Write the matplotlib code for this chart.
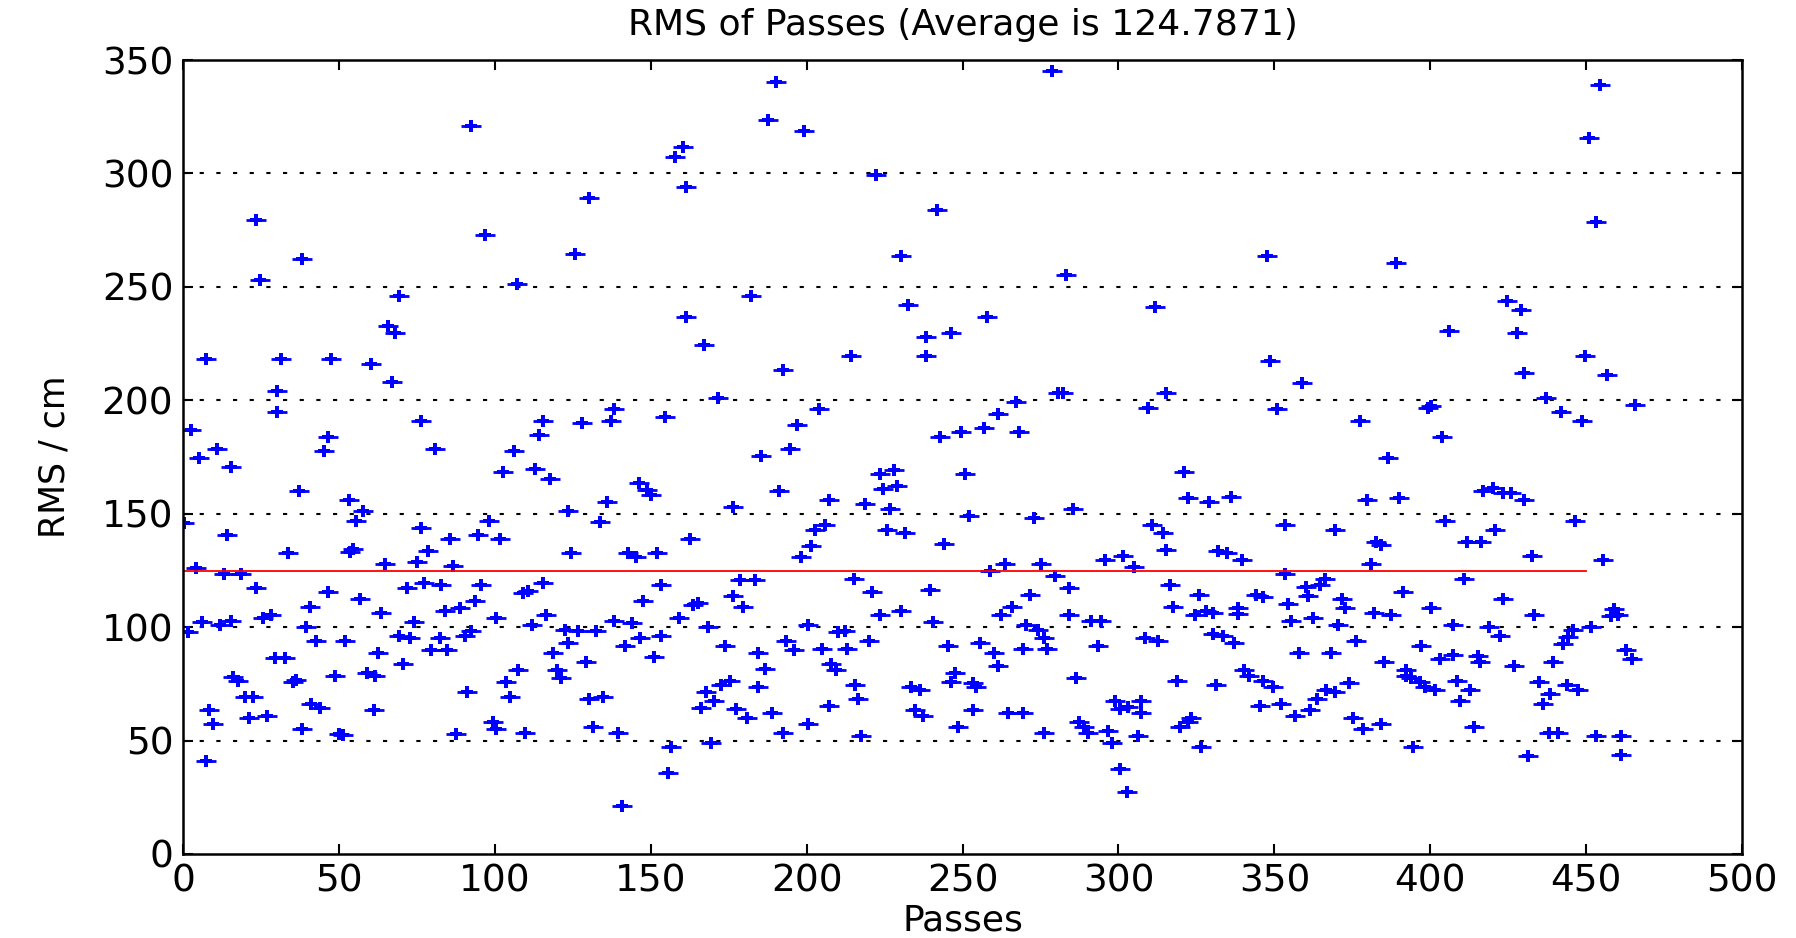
import matplotlib
matplotlib.use("Agg")
import matplotlib.pyplot as plt

passes = [
0.3,1.6,2.7,4.3,5.0,6.1,7.4,7.4,8.2,9.6,10.9,11.8,13.0,14.1,15.3,15.3,16.0,17.6,18.7,19.8,21.1,22.5,23.3,23.3,24.6,25.7,26.8,28.3,29.4,30.2,30.2,31.3,32.6,33.7,35.3,36.3,37.1,38.3,38.3,39.5,
40.6,41.2,42.8,43.8,45.2,46.5,46.5,47.4,48.6,50.0,51.2,52.1,53.2,53.5,54.5,55.4,56.7,57.8,59.1,60.2,61.3,61.5,62.5,63.6,64.7,65.7,67.0,68.1,69.2,69.3,70.6,71.7,72.7,74.1,75.0,76.2,76.2,77.3,78.6,79.6,80.7,
82.8,82.3,83.9,84.5,85.5,86.6,87.7,88.7,90.3,91.1,92.3,92.5,93.5,94.6,95.7,96.7,98.1,99.4,100.3,100.3,101.6,102.6,103.7,104.8,106.2,107.2,107.4,109.0,109.6,110.6,111.9,113.0,114.2,115.5,115.5,116.5,117.6,118.7,120.0,121.1,122.4,123.5,123.5,
124.5,125.6,126.7,128.0,129.3,130.1,130.1,131.5,132.6,133.6,134.7,136.1,137.1,138.2,138.2,139.5,140.8,141.6,142.7,144.0,145.4,146.2,146.4,147.5,148.9,150.0,151.0,152.1,153.2,153.4,154.5,155.5,156.6,157.7,159.1,160.3,161.4,161.4,162.5,163.6,165.0,
167.1,167.8,166.2,168.4,169.4,170.3,171.6,172.6,173.9,175.3,176.4,176.4,177.2,178.5,179.6,180.9,182.0,183.3,184.4,184.4,185.3,186.5,187.6,188.9,190.1,191.0,192.4,192.4,193.5,194.6,195.9,196.9,198.1,199.1,200.4,200.4,201.5,202.6,203.9,204.9,205.8,207.1,207.2,
207.9,209.5,210.0,212.2,213.0,214.1,215.2,215.4,216.5,217.5,218.6,219.9,220.9,222.1,223.4,223.4,224.5,225.8,226.6,227.9,229.0,230.1,230.1,231.4,232.5,233.6,234.6,236.2,237.3,238.2,238.2,239.4,240.5,241.8,242.9,243.9,245.3,246.2,246.2,247.5,248.5,
249.6,250.7,252.0,253.3,253.3,254.4,255.5,256.8,257.9,258.9,260.1,261.3,261.3,262.2,263.5,264.6,265.8,267.0,268.1,269.4,269.4,270.4,271.5,272.9,274.2,275.0,276.1,276.1,277.2,278.7,279.5,280.6,282.2,283.1,284.1,284.1,285.4,286.5,287.5,289.1,290.2,
291.3,293.4,294.5,295.6,296.6,297.9,298.8,300.4,300.4,301.4,302.7,303.0,304.9,306.2,307.3,307.3,308.4,309.5,310.7,311.8,312.7,314.3,315.1,315.1,316.4,317.5,318.7,319.6,321.0,322.3,322.3,323.4,324.4,325.7,326.6,328.2,328.9,330.3,330.3,331.4,331.9,
333.5,334.8,336.0,337.0,338.3,338.3,339.6,340.4,342.0,344.2,345.3,346.3,346.3,347.6,348.7,349.5,350.9,352.0,353.3,353.3,354.3,355.4,356.5,357.8,358.9,360.2,360.8,361.3,362.4,363.6,364.5,366.1,366.6,368.0,369.3,369.3,370.4,371.7,372.7,373.9,
375.2,376.2,377.3,378.4,379.7,380.9,381.9,382.7,384.3,384.3,385.3,386.4,387.5,388.9,389.9,391.2,392.3,392.3,393.9,394.6,396.6,396.9,398.2,399.2,400.3,400.3,401.4,403.0,403.7,404.8,406.0,407.3,407.3,408.5,409.4,410.7,411.7,412.8,414.0,415.3,
416.0,416.3,416.9,418.7,420.1,420.8,422.2,423.3,423.3,424.6,425.8,426.8,427.9,429.0,430.2,430.2,431.3,432.6,433.4,434.8,436.1,437.2,438.0,438.3,439.3,440.9,441.8,442.5,443.9,444.1,445.7,446.3,447.4,448.6,449.7,450.8,451.6,453.0,453.0,454.3,455.4,456.6,
458.0,459.0,460.2,461.0,461.0,462.8,464.7,465.8,
]

rms = [
145.7,97.7,186.7,125.9,174.5,102.3,218.2,40.8,63.3,57.2,178.6,101.1,123.6,140.5,170.5,102.7,78.2,76.4,123.6,69.1,60.1,69.1,279.5,117.3,253.2,104.1,61.0,105.2,86.5,204.1,195.0,218.2,86.5,132.7,75.9,76.8,160.1,262.4,55.0,100.0,
109.0,66.2,93.9,64.4,177.7,183.8,115.3,218.2,78.6,53.0,52.5,93.9,156.1,133.1,134.5,146.8,112.4,151.1,79.7,216.0,63.3,78.6,88.7,106.1,127.7,232.9,208.1,229.5,246.0,96.2,83.6,117.3,95.0,102.3,128.6,190.8,143.9,119.6,133.6,89.9,178.6,
118.5,95.0,107.2,89.9,138.7,127.0,52.7,108.3,96.2,71.2,320.7,98.4,111.7,140.5,118.5,272.7,146.8,58.3,104.1,55.0,138.7,168.2,75.7,69.1,177.7,251.1,80.9,115.1,53.2,115.8,101.1,169.6,184.9,190.8,119.6,105.2,165.3,88.7,81.3,77.5,98.9,151.1,92.8,
132.7,264.4,98.2,189.9,84.7,289.0,68.5,56.1,98.2,146.2,69.1,155.2,190.8,196.2,102.9,53.2,21.2,91.7,132.7,101.8,130.9,163.5,95.0,111.3,160.6,158.3,86.9,132.7,118.5,95.9,192.8,35.8,47.1,307.2,104.1,311.5,294.1,236.7,138.7,109.7,110.6,
224.3,71.2,64.4,100.0,48.9,67.3,201.1,74.5,91.7,76.4,152.9,113.5,64.0,120.7,109.0,60.1,246.0,120.7,88.7,73.4,175.5,81.5,323.6,62.2,340.3,160.1,213.3,53.2,93.9,178.6,89.9,189.0,130.9,318.5,101.1,57.2,135.8,143.0,196.2,90.5,144.8,156.1,65.1,
83.6,80.9,97.7,98.2,90.5,219.4,121.4,74.5,68.5,52.0,154.1,93.9,115.3,299.3,167.6,105.2,160.8,142.8,152.0,169.4,162.4,263.5,107.2,141.7,241.9,73.4,63.3,72.3,61.0,227.7,219.4,116.4,102.3,284.0,183.8,136.7,91.7,229.5,75.7,79.7,56.1,
185.8,167.3,148.9,75.2,63.3,73.4,92.8,187.8,236.7,124.8,88.7,193.9,82.7,105.2,127.7,62.2,109.0,199.1,185.8,90.5,62.2,101.1,114.2,148.0,98.9,127.7,95.0,53.2,90.5,345.0,122.5,203.2,203.0,255.4,117.3,105.2,152.0,77.5,58.3,56.1,53.2,
102.9,91.7,102.9,129.5,54.3,48.9,67.3,64.0,37.6,131.5,27.5,64.6,126.6,52.0,67.3,62.2,95.0,196.8,144.8,241.0,93.9,141.7,203.2,133.8,118.5,109.0,76.4,56.1,168.2,157.0,58.3,59.9,105.2,114.2,47.1,107.2,155.2,106.1,97.1,74.5,133.6,
95.9,132.7,157.4,92.8,108.3,105.6,129.5,81.3,78.6,114.2,65.1,113.1,76.4,263.5,217.3,73.4,196.2,66.2,144.8,123.6,110.1,102.9,61.0,88.7,207.4,117.6,113.5,63.3,104.1,68.5,118.7,121.4,72.3,88.7,142.8,71.4,101.1,112.4,108.3,75.2,
60.1,93.7,190.8,55.0,156.1,127.7,106.3,137.6,136.0,57.2,84.7,174.5,105.2,260.4,157.0,115.3,80.9,78.6,77.5,47.1,75.9,91.7,73.4,196.8,197.3,108.3,72.3,85.8,183.8,146.8,230.6,101.1,87.6,76.4,67.3,121.4,137.6,72.3,56.1,87.2,
84.7,137.6,160.1,100.0,161.3,142.8,95.9,159.2,112.4,243.9,159.2,82.7,229.5,239.9,212.2,156.1,43.0,131.5,105.2,75.7,66.2,201.1,53.2,70.3,84.7,53.2,195.0,92.6,74.5,95.5,98.9,146.8,72.3,190.8,219.4,315.5,100.0,278.6,52.0,339.2,129.7,211.0,
105.0,108.0,105.2,52.0,43.7,89.9,85.8,198.0,
]

average = 124.7871
avg_span = [0, 450]
x_ticks = [0, 50, 100, 150, 200, 250, 300, 350, 400, 450, 500]
y_ticks = [0, 50, 100, 150, 200, 250, 300, 350]

plt.rcParams['font.family'] = ['DejaVu Sans']

fig = plt.figure(figsize=(17.96, 9.38), dpi=100)
ax = fig.add_axes([0.1019, 0.0896, 0.8681, 0.8464])

ax.plot(passes, rms, ls='none', marker='_', ms=15, mew=2.0, color=(0, 0, 1))
ax.plot(passes, rms, ls='none', marker='P', ms=8, mew=0, color=(0, 0, 1))
ax.plot(avg_span, [average, average], color=(1, 0, 0), lw=1.3)

ax.set_xlim(0, 500)
ax.set_ylim(0, 350)
ax.set_xticks(x_ticks)
ax.set_yticks(y_ticks)
for yv in y_ticks[1:-1]:
    ax.axhline(yv, color='black', lw=1.5, dashes=(2, 6), zorder=0)

ax.tick_params(direction='in', length=7, width=1.5, top=True, right=True,
               labelsize=27, pad=7)
for s in ax.spines.values():
    s.set_linewidth(1.8)

ax.set_title(f'RMS of Passes (Average is {average})', fontsize=26, pad=18)
ax.set_xlabel('Passes', fontsize=26, labelpad=3)
ax.set_ylabel('RMS / cm', fontsize=25, labelpad=22)

fig.savefig('out.png', dpi=100)
